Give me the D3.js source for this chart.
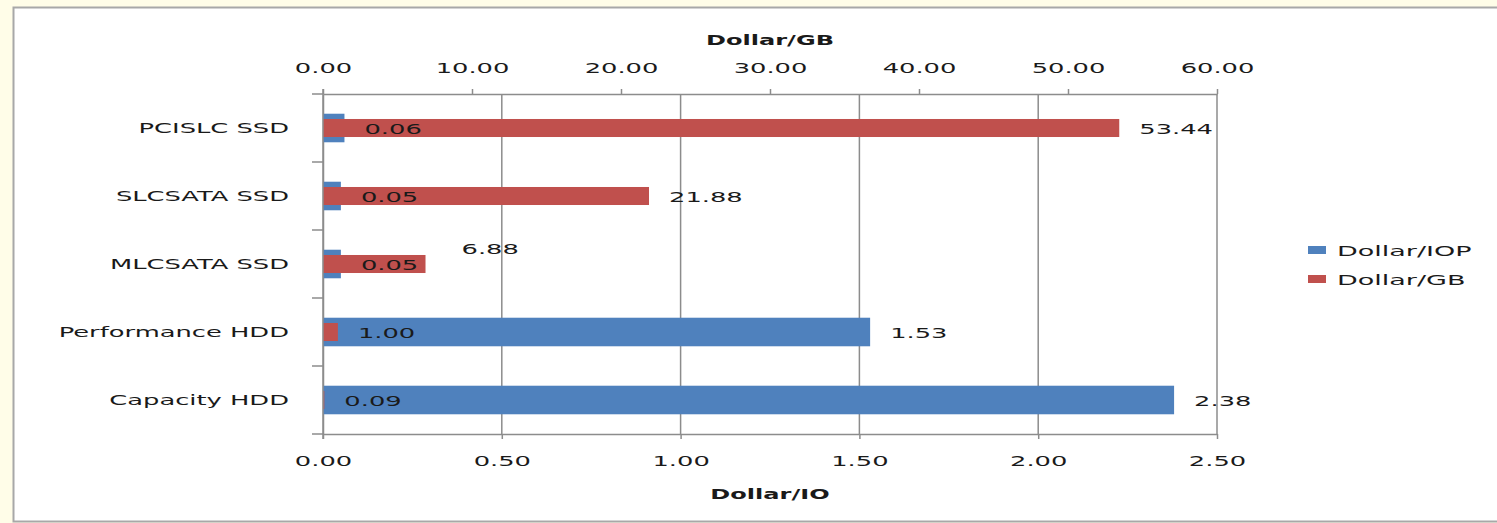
<!DOCTYPE html>
<html>
<head>
<meta charset="utf-8">
<script src="https://cdn.jsdelivr.net/npm/d3@7"></script>
<style>
  html, body { margin: 0; padding: 0; background: #fffde8; }
  svg { display: block; }
  text { font-family: "DejaVu Sans", Verdana, sans-serif; fill: #1a1a1a; }
</style>
</head>
<body>
<svg id="chart" width="1497" height="523"></svg>
<script>
// Storage cost comparison: two series on two value axes
const categories = ["PCISLC SSD", "SLCSATA SSD", "MLCSATA SSD", "Performance HDD", "Capacity HDD"];
const dollarPerIop = [0.06, 0.05, 0.05, 1.53, 2.38];
const dollarPerGb = [53.44, 21.88, 6.88, 1.00, 0.09];
const iopTicks = [0, 0.5, 1.0, 1.5, 2.0, 2.5];
const gbTicks = [0, 10, 20, 30, 40, 50, 60];
const seriesNames = ["Dollar/IOP", "Dollar/GB"];

const BLUE = "#4f81bd", RED = "#c0504d", GRID = "#8c8c8c";
const SX = 1.84;           // horizontal text stretch
const FS = 14;

const svg = d3.select("#chart");

// outer chart frame
svg.append("rect")
  .attr("x", 13.5).attr("y", 7.5)
  .attr("width", 1500).attr("height", 514)
  .attr("fill", "#ffffff").attr("stroke", "#a8a8a8").attr("stroke-width", 2);

const plotL = 323, plotR = 1217, plotT = 94, plotB = 434;

const xIop = d3.scaleLinear().domain([0, 2.5]).range([plotL, plotR]);
const xGb = d3.scaleLinear().domain([0, 60]).range([plotL, plotR]);
const y = d3.scaleBand().domain(categories).range([plotT, plotB]).padding(0);

const g = svg.append("g");

// vertical gridlines at the Dollar/IO major ticks
g.selectAll("line.grid").data(iopTicks.slice(1)).join("line")
  .attr("class", "grid")
  .attr("x1", d => xIop(d)).attr("x2", d => xIop(d))
  .attr("y1", plotT).attr("y2", plotB)
  .attr("stroke", GRID).attr("stroke-width", 1.5);

// bottom axis (Dollar/IO)
const axB = g.append("g").attr("transform", `translate(0,${plotB})`)
  .call(d3.axisBottom(xIop).tickValues(iopTicks).tickFormat(d3.format(".2f")).tickSize(5).tickSizeOuter(0));
// top axis (Dollar/GB)
const axT = g.append("g").attr("transform", `translate(0,${plotT})`)
  .call(d3.axisTop(xGb).tickValues(gbTicks).tickFormat(d3.format(".2f")).tickSize(5).tickSizeOuter(0));
// category axis
const axL = g.append("g").attr("transform", `translate(${plotL},0)`)
  .call(d3.axisLeft(y).tickSize(0).tickSizeOuter(0));

[axB, axT, axL].forEach(ax => {
  ax.select(".domain").attr("stroke", GRID).attr("stroke-width", 1.5);
  ax.selectAll(".tick line").attr("stroke", GRID).attr("stroke-width", 1.5);
  ax.selectAll("text").attr("font-size", FS).attr("font-family", "DejaVu Sans")
    .attr("fill", "#1a1a1a");
});
axB.selectAll(".tick text").attr("y", 0).attr("dy", 0)
  .attr("transform", `translate(0,32) scale(${SX},1)`);
axT.selectAll(".tick text").attr("y", 0).attr("dy", 0)
  .attr("transform", `translate(0,-21) scale(${SX},1)`);
axL.selectAll(".tick text").attr("x", 0).attr("dy", 0)
  .attr("transform", `translate(-34,5) scale(${SX},1)`);

// category separator ticks on the left axis
g.selectAll("line.ctick").data(d3.range(categories.length + 1)).join("line")
  .attr("class", "ctick")
  .attr("x1", plotL - 11).attr("x2", plotL)
  .attr("y1", i => plotT + i * y.bandwidth()).attr("y2", i => plotT + i * y.bandwidth())
  .attr("stroke", GRID).attr("stroke-width", 1.5);

// bars: Dollar/IOP (primary) then Dollar/GB (secondary) drawn over it
const hBlue = y.bandwidth() * 0.42;
const hRed = y.bandwidth() * 0.265;
const cy = c => y(c) + y.bandwidth() / 2;

g.selectAll("rect.iop").data(categories).join("rect")
  .attr("class", "iop")
  .attr("x", xIop(0)).attr("y", c => cy(c) - hBlue / 2)
  .attr("width", (c, i) => xIop(dollarPerIop[i]) - xIop(0)).attr("height", hBlue)
  .attr("fill", BLUE);

g.selectAll("rect.gb").data(categories).join("rect")
  .attr("class", "gb")
  .attr("x", xGb(0)).attr("y", c => cy(c) - hRed / 2)
  .attr("width", (c, i) => xGb(dollarPerGb[i]) - xGb(0)).attr("height", hRed)
  .attr("fill", RED);

// left axis line, slightly past the plot top and bottom, over the bars
g.append("line").attr("x1", plotL).attr("x2", plotL).attr("y1", plotT - 5).attr("y2", plotB + 5)
  .attr("stroke", GRID).attr("stroke-width", 1.5);

// value labels at the bar ends
function valueLabel(x, yy, txt) {
  g.append("text")
    .attr("transform", `translate(${x},${yy}) scale(${SX},1)`)
    .attr("font-size", FS).text(txt);
}
const LBL_GAP = 20;
categories.forEach((c, i) => {
  valueLabel(xIop(dollarPerIop[i]) + LBL_GAP, cy(c) + 6, d3.format(".2f")(dollarPerIop[i]));
  // the MLCSATA Dollar/GB label sits lifted above its bar
  const nudge = c === "MLCSATA SSD" ? [16, -16] : [0, 0];
  valueLabel(xGb(dollarPerGb[i]) + LBL_GAP + nudge[0], cy(c) + 6 + nudge[1], d3.format(".2f")(dollarPerGb[i]));
});

// axis titles
function title(x, yy, txt) {
  svg.append("text")
    .attr("transform", `translate(${x},${yy}) scale(1.72,1)`)
    .attr("text-anchor", "middle").attr("font-size", FS).attr("font-weight", "bold")
    .text(txt);
}
title((plotL + plotR) / 2, 45, "Dollar/GB");
title((plotL + plotR) / 2, 499, "Dollar/IO");

// legend
const legend = svg.append("g").attr("transform", "translate(1308,246)");
[BLUE, RED].forEach((col, i) => {
  legend.append("rect").attr("x", 0).attr("y", i * 29).attr("width", 18).attr("height", 8).attr("fill", col);
  legend.append("text")
    .attr("transform", `translate(29,${i * 29 + 10}) scale(1.93,1)`)
    .attr("font-size", FS).text(seriesNames[i]);
});
</script>
</body>
</html>
